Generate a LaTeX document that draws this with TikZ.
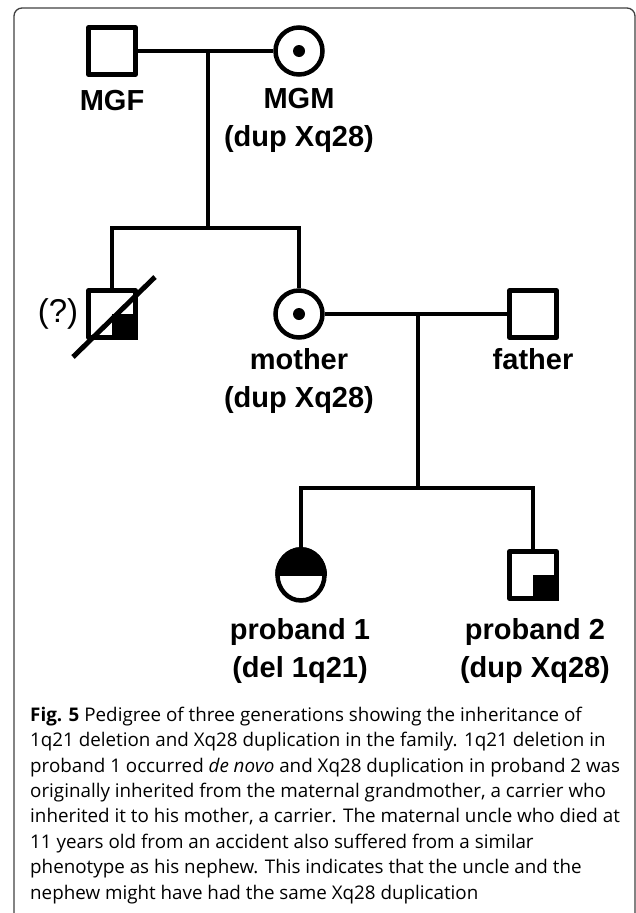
\documentclass[tikz,border=0pt]{standalone}
\usepackage{fontspec}
\setmainfont{Liberation Sans}
\newfontfamily\capfont{Open Sans}
\usetikzlibrary{positioning,calc,shapes.geometric}
\tikzset{
  male/.style={draw, rectangle, line width=4.5pt, minimum size=47pt, inner sep=0pt, line join=round},
  female/.style={draw, ellipse, line width=4.5pt, minimum width=47pt, minimum height=47pt, inner sep=0pt},
  link/.style={line width=4pt},
  lbl/.style={font=\fontsize{29}{37.5}\selectfont\bfseries, anchor=base, inner sep=0pt, align=center},
  capt/.style={font=\capfont\fontsize{18.8}{25.4}\selectfont, anchor=base west, inner sep=0pt, align=left},
}

\begin{document}
\begin{tikzpicture}[x=1pt, y=-1pt]
  \useasboundingbox (0,0) rectangle (636,913);
  % Outer frame
  \draw[black!75, line width=1.3pt, rounded corners=8pt] (14,8) rectangle (635,930);

  % Generation I
  \node[male]   (mgf) at (112,51) {};
  \node[female] (mgm) at (299,51) {};
  \fill (mgm.center) circle (6pt);
  \coordinate (gp) at (208,51);
  \coordinate (sib1) at (208,228);

  % Generation II
  \node[male]   (uncle)  at (112,314) {};
  \node[female] (mother) at (299,314) {};
  \node[male]   (father) at (533,314) {};
  \fill (mother.center) circle (6pt);
  \fill (uncle.center) rectangle (uncle.south east);
  \draw[line width=5pt] ($(uncle.center)+(-39,43)$) -- ($(uncle.center)+(43,-37)$);
  \coordinate (par) at (418,314);
  \coordinate (sib2) at (418,488);

  % Generation III
  \node[female, minimum height=51pt] (pb1) at (301,575) {};
  \node[male] (pb2) at (533,575) {};
  \begin{scope}
    \clip (pb1.west) rectangle (pb1.east |- pb1.north);
    \fill (pb1.center) ellipse [x radius=26pt, y radius=28pt];
  \end{scope}
  \fill (pb2.center) rectangle (pb2.south east);

  % Lines of descent
  \draw[link] (mgf) -- (mgm);
  \draw[link] (gp) -- (sib1);
  \draw[link] (uncle.north) |- (sib1) -| (mother.north);
  \draw[link] (mother) -- (father);
  \draw[link] (par) -- (sib2);
  \draw[link] (pb1.north) |- (sib2) -| (pb2.north);

  % Labels (base = last line)
  \node[lbl] (mgftxt) at (112,110) {MGF};
  \node[lbl] (mgmtxt) at (299,146) {MGM\\(dup Xq28)};
  \node[lbl] (mothertxt) at (299,407) {mother\\(dup Xq28)};
  \node[lbl] (fathertxt) at (533,369) {father};
  \node[lbl] (pb1txt) at (300,677) {proband 1\\(del 1q21)};
  \node[lbl] (pb2txt) at (535,677) {proband 2\\(dup Xq28)};
  \node[font=\fontsize{33}{36}\selectfont, anchor=base, inner sep=0pt] (unk) at (58,322) {(?)};

  % Caption
  \node[capt] (caption) at (30,899) {\textbf{Fig. 5} Pedigree of three generations showing the inheritance of\\
    1q21 deletion and Xq28 duplication in the family. 1q21 deletion in\\
    proband 1 occurred \textit{de novo} and Xq28 duplication in proband 2 was\\
    originally inherited from the maternal grandmother, a carrier who\\
    inherited it to his mother, a carrier. The maternal uncle who died at\\
    11 years old from an accident also suffered from a similar\\
    phenotype as his nephew. This indicates that the uncle and the\\
    nephew might have had the same Xq28 duplication};
\end{tikzpicture}
\end{document}
